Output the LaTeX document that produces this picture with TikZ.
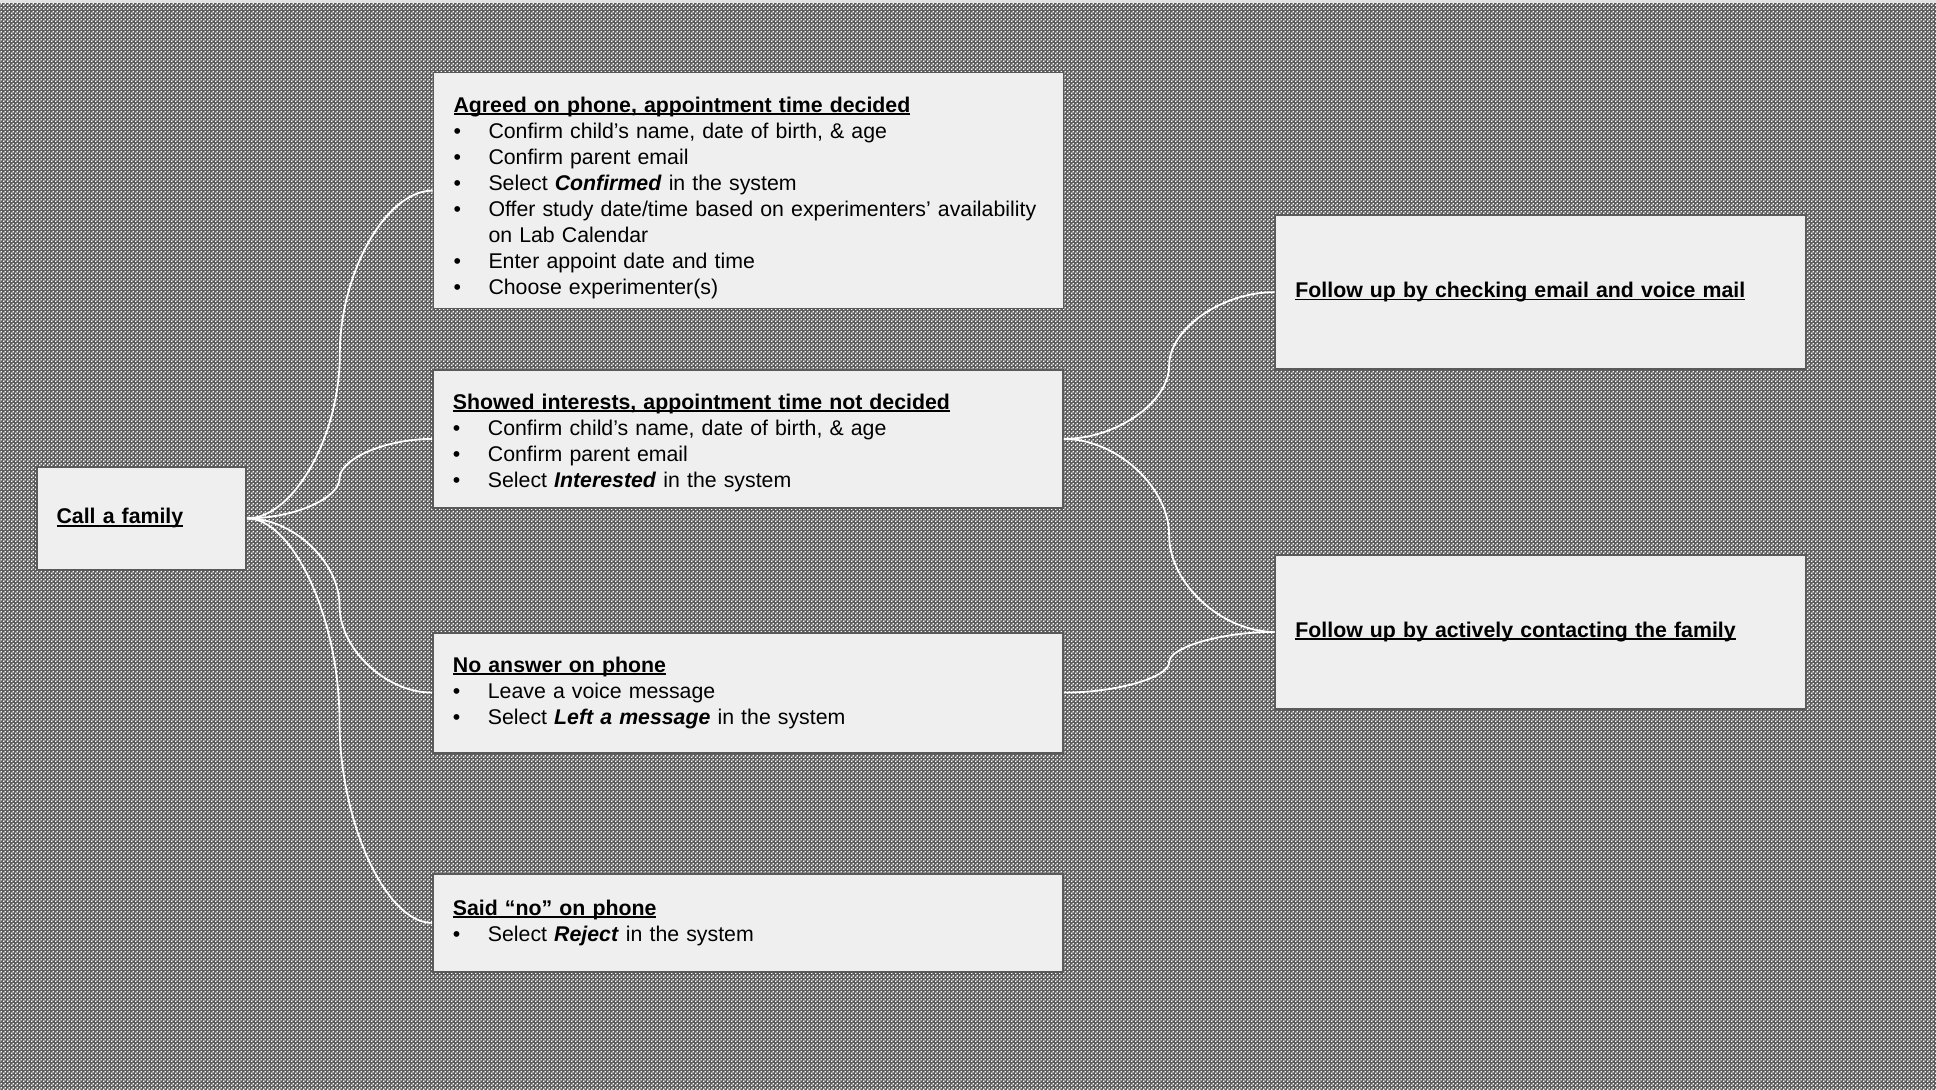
\documentclass[tikz,border=0pt]{standalone}
\usepackage{fontspec}
\setmainfont{Liberation Sans}
\usetikzlibrary{calc,patterns}
\definecolor{bgdark}{HTML}{5E5E5E}
\definecolor{boxfill}{HTML}{EFEFEF}
\definecolor{boxline}{HTML}{5A5A5A}
\pgfdeclarepatternformonly{finecheck}{\pgfpointorigin}{\pgfqpoint{2pt}{2pt}}{\pgfqpoint{2pt}{2pt}}{%
  \pgfpathrectangle{\pgfpointorigin}{\pgfqpoint{0.8pt}{0.8pt}}%
  \pgfpathrectangle{\pgfqpoint{1pt}{1pt}}{\pgfqpoint{0.8pt}{0.8pt}}%
  \pgfusepath{fill}}
\newlength\headwd
\newcommand\head[2][0pt]{\rule{0pt}{#1}\settowidth\headwd{\textbf{#2}}\textbf{#2}\llap{\rule[-1.4pt]{\headwd}{0.9pt}}}
\newcommand\bul[1]{\par\hangindent=17.5pt\hangafter=1\makebox[17.5pt][l]{\textbullet}#1}
\begin{document}
\begin{tikzpicture}[x=0.5pt,y=-0.5pt,
  box/.style={draw=boxline,fill=boxfill,line width=0.9pt,rectangle,anchor=north west,
    inner xsep=10pt,inner ysep=2pt,align=left,font=\fontsize{10.65}{13}\selectfont},
  link/.style={white,line width=0.9pt,to path={let \p1=(\tikztostart),\p2=(\tikztotarget) in
    .. controls ({0.75*\x1+0.25*\x2},\y1) and ({0.5*\x1+0.5*\x2},{0.75*\y1+0.25*\y2})
    .. ({0.5*\x1+0.5*\x2},{0.5*\y1+0.5*\y2})
    .. controls ({0.5*\x1+0.5*\x2},{0.25*\y1+0.75*\y2}) and ({0.25*\x1+0.75*\x2},\y2)
    .. (\p2)}}]
\useasboundingbox (0,0) rectangle (1936,1090);
% background
\fill[bgdark] (0,0) rectangle (1936,1090);
\fill[pattern=finecheck,pattern color=white] (0,0) rectangle (1936,1090);
\fill[gray!22] (0,0) rectangle (1936,3);
% boxes
\node[box,minimum width=103.75pt,minimum height=51.5pt,text width=84.75pt] (call) at (35.7,466) {\head{Call a family}};
\node[box,minimum width=315pt,minimum height=118pt,text width=295pt] (agreed) at (432.6,71.7) {\head[14.8pt]{Agreed on phone, appointment time decided}
  \bul{Confirm child’s name, date of birth, \& age}
  \bul{Confirm parent email}
  \bul{Select \textbf{\textit{Confirmed}} in the system}
  \bul{Offer study date/time based on experimenters’ availability\newline on Lab Calendar}
  \bul{Enter appoint date and time}
  \bul{Choose experimenter(s)}};
\node[box,minimum width=315pt,minimum height=68.7pt,text width=295pt] (interest) at (432,369.3) {\head[11.7pt]{Showed interests, appointment time not decided}
  \bul{Confirm child’s name, date of birth, \& age}
  \bul{Confirm parent email}
  \bul{Select \textbf{\textit{Interested}} in the system}};
\node[box,minimum width=315pt,minimum height=60pt,text width=295pt] (noanswer) at (432,631.7) {\head{No answer on phone}
  \bul{Leave a voice message}
  \bul{Select \textbf{\textit{Left a message}} in the system}};
\node[box,minimum width=315pt,minimum height=48.7pt,text width=295pt] (saidno) at (432,873.3) {\head{Said “no” on phone}
  \bul{Select \textbf{\textit{Reject}} in the system}};
\node[box,minimum width=265pt,minimum height=76.75pt,text width=245pt] (checkmail) at (1274.5,214.5) {\head{Follow up by checking email and voice mail}};
\node[box,minimum width=265pt,minimum height=76.7pt,text width=245pt] (contact) at (1274.5,554.3) {\head{Follow up by actively contacting the family}};
% connectors
\draw[link] (call.east) to (agreed.west);
\draw[link] (call.east) to (interest.west);
\draw[link] (call.east) to (noanswer.west);
\draw[link] (call.east) to (saidno.west);
\draw[link] (interest.east) to (checkmail.west);
\draw[link] (interest.east) to (contact.west);
\draw[link] (noanswer.east) to (contact.west);
\end{tikzpicture}
\end{document}
